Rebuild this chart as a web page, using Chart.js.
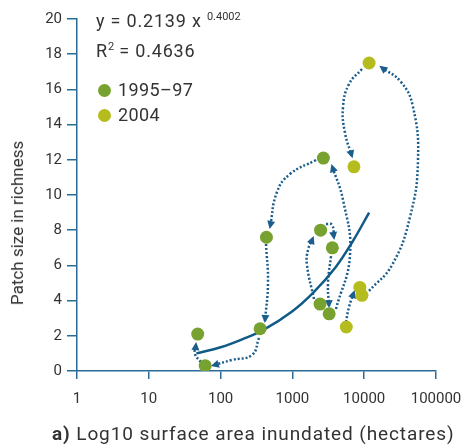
<!DOCTYPE html>
<html>
<head>
<meta charset="utf-8">
<script src="https://cdn.jsdelivr.net/npm/chart.js@4"></script>
<style>
  body { margin: 0; background: #fff; }
  #wrap { position: relative; width: 465px; height: 448px; font-family: Roboto, "Open Sans", sans-serif; color: #333; }
  #wrap canvas { position: absolute; left: 0; top: 0; }
  .txt { position: absolute; white-space: nowrap; }
  .eq { font-size: 18px; left: 96px; letter-spacing: 0.8px; }
  .eq sup { font-size: 11px; vertical-align: 7px; letter-spacing: 0; }
  .leg { font-size: 18px; left: 118px; letter-spacing: 0.4px; }
  .dot { position: absolute; width: 13px; height: 13px; border-radius: 50%; left: 98px; }
  #ytitle { font-size: 17px; left: 17px; top: 223px; transform: translate(-50%, -50%) rotate(-90deg); }
  #xtitle { font-size: 19px; left: 52px; top: 422px; letter-spacing: 0.9px; }
</style>
</head>
<body>
<div id="wrap">
  <canvas id="chart" width="465" height="448"></canvas>
  <div class="txt eq" style="top:10px">y = 0.2139 x <sup>0.4002</sup></div>
  <div class="txt eq" style="top:40px">R<sup>2</sup> = 0.4636</div>
  <span class="dot" style="top:84px; background:#77a22f"></span>
  <div class="txt leg" style="top:79px">1995–97</div>
  <span class="dot" style="top:109px; background:#b5bd1e"></span>
  <div class="txt leg" style="top:104px">2004</div>
  <div class="txt" id="ytitle">Patch size in richness</div>
  <div class="txt" id="xtitle"><b>a)</b> Log10 surface area inundated (hectares)</div>
</div>
<script>
// valeurs
const xTicks = [1, 10, 100, 1000, 10000, 100000];
const yTicks = [0, 2, 4, 6, 8, 10, 12, 14, 16, 18, 20];

const area9597 = [48, 61, 355, 435, 2470, 3600, 2425, 3250, 2700];
const rich9597 = [2.1, 0.3, 2.4, 7.6, 8.0, 7.0, 3.8, 3.25, 12.1];

const area2004 = [11700, 7200, 8700, 9300, 5630];
const rich2004 = [17.5, 11.6, 4.75, 4.3, 2.5];

// courbe de tendance
const fitX = [46, 100, 200, 400, 1000, 2000, 4000, 7000, 11700];
const fitY = [1.0, 1.35, 1.8, 2.35, 3.4, 4.5, 5.9, 7.4, 9.0];

// fleches pointillees : suite de points [surface, richesse]
const arrows = [
  [[343, 1.88], [274, 0.91], [144, 0.63], [78, 0.31]],
  [[53, 0.51], [44, 0.97], [45.4, 1.53]],
  [[2133, 11.99], [926, 11.19], [610, 10.17], [488, 8.18]],
  [[429, 7.22], [457, 5.0], [415, 2.84]],
  [[4047, 3.52], [6345, 6.59], [5070, 9.72], [3563, 11.65]],
  [[2000, 4.09], [1597, 6.02], [1649, 6.88], [1936, 7.56]],
  [[2938, 8.35], [3563, 8.3], [3797, 7.56]],
  [[3451, 6.53], [3133, 5.0], [3234, 3.69]],
  [[5575, 2.78], [6140, 3.64], [7210, 4.49]],
  [[11670, 4.55], [24380, 6.02], [43450, 8.75], [56130, 11.99], [47860, 15.0], [32560, 16.42], [17140, 17.27]],
  [[9312, 17.16], [6140, 16.3], [5070, 15.0], [5405, 13.52], [6761, 12.2]]
];

const axisColor = '#2a6a96';
const arrowColor = '#1b5e8e';

function toPts(xs, ys) {
  return xs.map((x, i) => ({ x: x, y: ys[i] }));
}

const datasets = [
  {
    data: toPts(area9597, rich9597),
    backgroundColor: '#77a22f', borderWidth: 0,
    pointRadius: 6.5, showLine: false, order: 0
  },
  {
    data: toPts(area2004, rich2004),
    backgroundColor: '#b5bd1e', borderWidth: 0,
    pointRadius: 6.5, showLine: false, order: 0
  },
  {
    data: toPts(fitX, fitY),
    borderColor: '#0f5a86', borderWidth: 2.5,
    pointRadius: 0, showLine: true, tension: 0.4, order: 1
  }
];

arrows.forEach(a => {
  datasets.push({
    data: a.map(p => ({ x: p[0], y: p[1] })),
    borderColor: arrowColor, borderWidth: 2.5, borderDash: [2, 2],
    pointRadius: 0, showLine: true, tension: 0.45, order: 2,
    isArrow: true
  });
});

// petite pointe de fleche au bout de chaque trajet
const arrowHeads = {
  id: 'arrowHeads',
  afterDatasetDraw(chart, args) {
    const ds = chart.data.datasets[args.index];
    if (!ds.isArrow) return;
    const pts = args.meta.data;
    const end = pts[pts.length - 1];
    let fx = end.cp1x, fy = end.cp1y;
    if (fx === undefined || Math.hypot(end.x - fx, end.y - fy) < 1) {
      fx = pts[pts.length - 2].x; fy = pts[pts.length - 2].y;
    }
    const ang = Math.atan2(end.y - fy, end.x - fx);
    const ctx = chart.ctx;
    ctx.save();
    ctx.translate(end.x, end.y);
    ctx.rotate(ang);
    ctx.fillStyle = arrowColor;
    ctx.beginPath();
    ctx.moveTo(2, 0);
    ctx.lineTo(-6, -4);
    ctx.lineTo(-6, 4);
    ctx.closePath();
    ctx.fill();
    ctx.restore();
  }
};

new Chart(document.getElementById('chart'), {
  type: 'scatter',
  data: { datasets: datasets },
  options: {
    responsive: false,
    animation: false,
    layout: { padding: { top: 19, right: 29, bottom: 37, left: 0 } },
    plugins: { legend: { display: false }, tooltip: { enabled: false } },
    scales: {
      x: {
        type: 'logarithmic', min: 1, max: 100000,
        afterBuildTicks: s => { s.ticks = xTicks.map(v => ({ value: v })); },
        afterFit: s => { s.height = 40; s.paddingRight = 10; s.paddingLeft = 5; },
        ticks: {
          callback: v => String(v), color: '#333', padding: 11,
          font: { family: 'Roboto', size: 15 }, maxRotation: 0, autoSkip: false
        },
        grid: { drawOnChartArea: false, tickLength: 8, color: axisColor, lineWidth: 1.5 },
        border: { color: axisColor, width: 1.5 }
      },
      y: {
        min: 0, max: 20,
        afterBuildTicks: s => { s.ticks = yTicks.map(v => ({ value: v })); },
        afterFit: s => { s.width = 77; },
        ticks: {
          color: '#333', padding: 5,
          font: { family: 'Roboto', size: 15 }
        },
        grid: { drawOnChartArea: false, tickLength: 10, color: axisColor, lineWidth: 1.5 },
        border: { color: axisColor, width: 1.5 }
      }
    }
  },
  plugins: [arrowHeads]
});
</script>
</body>
</html>
